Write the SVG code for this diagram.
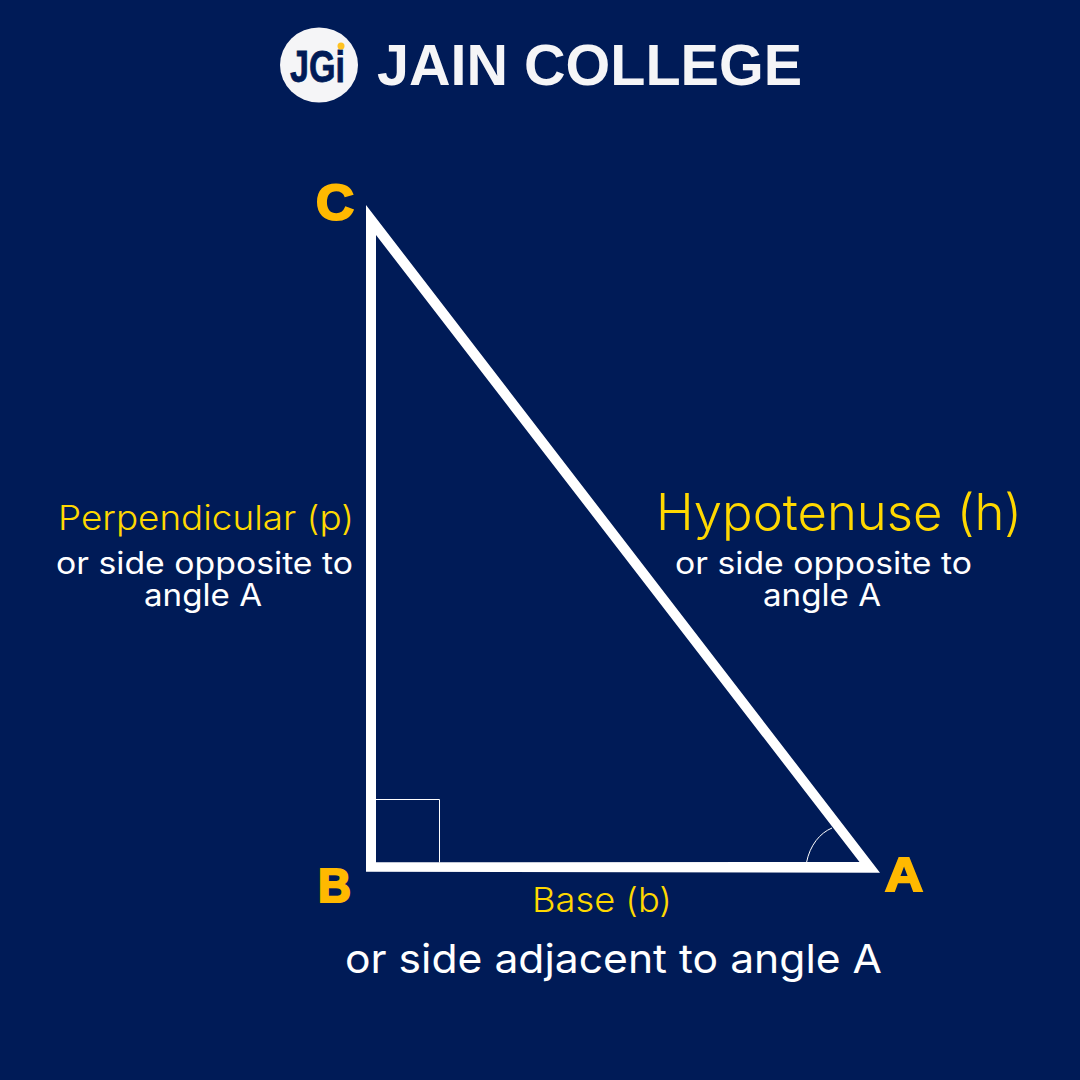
<svg xmlns="http://www.w3.org/2000/svg" width="1080" height="1080" viewBox="0 0 1080 1080">
<style>
.l{font-family:"Inter","Liberation Sans",sans-serif;font-weight:400}
.y{fill:#ffd800;font-weight:300}
.w{fill:#ffffff}
.v{font-family:"Liberation Sans",Arial,sans-serif;font-weight:700;fill:#ffb900;stroke:#ffb900;stroke-width:2.200}
.thin{fill:none;stroke:#ffffff;stroke-width:1}
</style>
<rect width="1080" height="1080" fill="#001b57"/>
<g id="logo">
<ellipse cx="319" cy="65" rx="39" ry="37.500" fill="#f5f5f7"/>
<text x="290" y="82" font-family="'Liberation Sans',sans-serif" font-weight="700" font-size="44" fill="#001b57" stroke="#001b57" stroke-width="0.800" textLength="55" lengthAdjust="spacingAndGlyphs">JGi</text>
<circle cx="341" cy="46" r="3.500" fill="#ffc222"/>
<text x="377" y="85" font-family="'Liberation Sans',sans-serif" font-weight="700" font-size="57" fill="#f5f5f7" textLength="425" lengthAdjust="spacingAndGlyphs">JAIN COLLEGE</text>
</g>
<g id="triangle">
<path fill="#ffffff" fill-rule="evenodd" d="M366 205L880 872.700L366 871.700ZM376 235L376 862.300L859.500 862Z"/>
</g>
<g id="right-angle"><path class="thin" d="M376 799.500H439.500V862.500"/></g>
<g id="angle-arc"><path class="thin" d="M806.500 862.500C810 845 820 833 832 828"/></g>
<g id="vertex-C"><text class="v" x="316" y="220" font-size="50" textLength="38" lengthAdjust="spacingAndGlyphs">C</text></g>
<g id="vertex-B"><text class="v" x="318" y="902" font-size="48" textLength="33" lengthAdjust="spacingAndGlyphs">B</text></g>
<g id="vertex-A"><text class="v" x="885" y="891" font-size="48" textLength="38" lengthAdjust="spacingAndGlyphs">A</text></g>
<g id="label-perpendicular">
<text class="l y" x="58" y="530" font-size="34" textLength="296" lengthAdjust="spacingAndGlyphs">Perpendicular (p)</text>
<text class="l w" x="56" y="574" font-size="31" textLength="297" lengthAdjust="spacingAndGlyphs">or side opposite to</text>
<text class="l w" x="144" y="606" font-size="31" textLength="118" lengthAdjust="spacingAndGlyphs">angle A</text>
</g>
<g id="label-hypotenuse">
<text class="l y" x="656" y="530" font-size="50" textLength="366" lengthAdjust="spacingAndGlyphs">Hypotenuse (h)</text>
<text class="l w" x="675" y="574" font-size="31" textLength="297" lengthAdjust="spacingAndGlyphs">or side opposite to</text>
<text class="l w" x="763" y="606" font-size="31" textLength="118" lengthAdjust="spacingAndGlyphs">angle A</text>
</g>
<g id="label-base">
<text class="l y" x="532" y="912" font-size="34" textLength="140" lengthAdjust="spacingAndGlyphs">Base (b)</text>
<text class="l w" x="345" y="973" font-size="40" textLength="537" lengthAdjust="spacingAndGlyphs">or side adjacent to angle A</text>
</g>
</svg>
